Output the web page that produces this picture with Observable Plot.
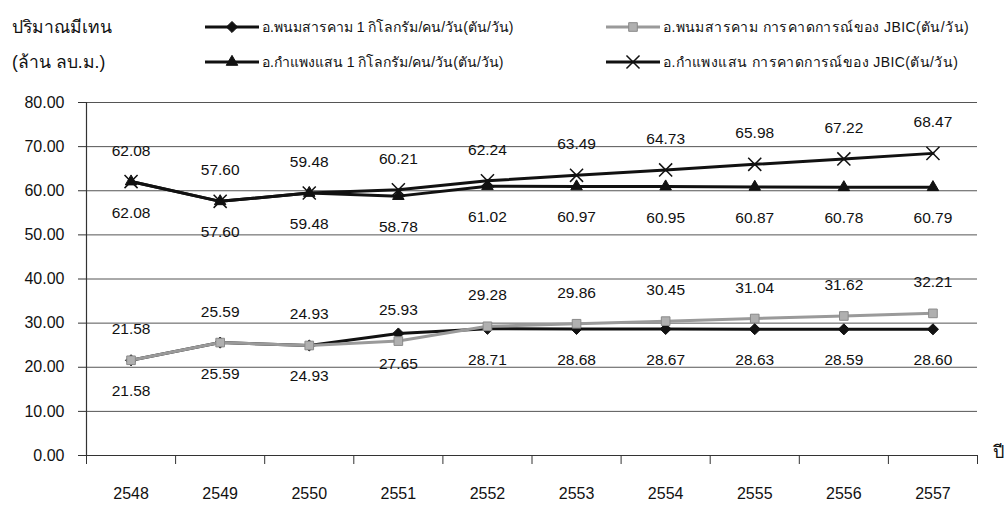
<!DOCTYPE html>
<html>
<head>
<meta charset="utf-8">
<script src="https://cdn.jsdelivr.net/npm/d3@7"></script>
<script src="https://cdn.jsdelivr.net/npm/@observablehq/plot@0.6"></script>
<style>
  html, body { margin: 0; padding: 0; background: #fff; }
  body { width: 1006px; height: 514px; overflow: hidden; font-family: "Liberation Sans", Arial, sans-serif; color: #111; }
  #legend { position: relative; height: 85px; }
  #legend .t { position: absolute; font-size: 17.5px; white-space: nowrap; transform: translateY(-50%); }
  #legend .item { position: absolute; display: flex; align-items: center; font-size: 14px; white-space: nowrap; transform: translateY(-50%); }
  #legend .item svg { margin-right: 3px; }
  #legend .item.wide span { letter-spacing: 0.4px; }
  #chart svg { overflow: visible; }
</style>
</head>
<body>
<div id="legend"></div>
<div id="chart"></div>
<script>
// ---- data ----
const years = [2548, 2549, 2550, 2551, 2552, 2553, 2554, 2555, 2556, 2557];
const phanomPerCapita = [21.58, 25.59, 24.93, 27.65, 28.71, 28.68, 28.67, 28.63, 28.59, 28.60];
const phanomJBIC      = [21.58, 25.59, 24.93, 25.93, 29.28, 29.86, 30.45, 31.04, 31.62, 32.21];
const kamphaengPerCapita = [62.08, 57.60, 59.48, 58.78, 61.02, 60.97, 60.95, 60.87, 60.78, 60.79];
const kamphaengJBIC      = [62.08, 57.60, 59.48, 60.21, 62.24, 63.49, 64.73, 65.98, 67.22, 68.47];
const seriesNames = [
  "อ.พนมสารคาม  1 กิโลกรัม/คน/วัน(ตัน/วัน)",
  "อ.กำแพงแสน  1 กิโลกรัม/คน/วัน(ตัน/วัน)",
  "อ.พนมสารคาม  การคาดการณ์ของ JBIC(ตัน/วัน)",
  "อ.กำแพงแสน  การคาดการณ์ของ JBIC(ตัน/วัน)"
];
const yTicks = [0, 10, 20, 30, 40, 50, 60, 70, 80];
const yTitle = ["ปริมาณมีเทน", "(ล้าน ลบ.ม.)"];
const xTitle = "ปี";

// ---- styles ----
const styles = [
  {values: phanomPerCapita,    stroke: "#111", symbol: "diamond2",  fill: "#111", mstroke: "#111", r: 5,   labelDy: 31},
  {values: kamphaengPerCapita, stroke: "#111", symbol: "triangle2", fill: "#111", mstroke: "#111", r: 5.5, labelDy: 31},
  {values: phanomJBIC,         stroke: "#9a9a9a", symbol: "square2", fill: "#b0b0b0", mstroke: "#8a8a8a", r: 5.5, labelDy: -31},
  {values: kamphaengJBIC,      stroke: "#111", symbol: "times",     fill: "none", mstroke: "#111", r: 6,   labelDy: -31}
];
const tables = styles.map((s, i) => years.map((y, j) => ({year: y, value: s.values[j], series: seriesNames[i]})));

// ---- legend ----
const legend = document.getElementById("legend");
function addText(txt, left, top) {
  const d = document.createElement("div");
  d.className = "t"; d.textContent = txt;
  d.style.left = left + "px"; d.style.top = top + "px";
  legend.appendChild(d);
}
addText(yTitle[0], 12, 27);
addText(yTitle[1], 12, 62);
function swatch(s) {
  const ns = "http://www.w3.org/2000/svg";
  const svg = document.createElementNS(ns, "svg");
  svg.setAttribute("width", 54); svg.setAttribute("height", 16);
  const line = document.createElementNS(ns, "line");
  line.setAttribute("x1", 0); line.setAttribute("x2", 54); line.setAttribute("y1", 8); line.setAttribute("y2", 8);
  line.setAttribute("stroke", s.stroke); line.setAttribute("stroke-width", 3);
  svg.appendChild(line);
  const sym = d3.symbol().type({
    diamond2: d3.symbolDiamond2, triangle2: d3.symbolTriangle2, square2: d3.symbolSquare2, times: d3.symbolTimes
  }[s.symbol]).size(s.r * s.r * Math.PI)();
  const p = document.createElementNS(ns, "path");
  p.setAttribute("d", sym); p.setAttribute("transform", "translate(27,8)");
  p.setAttribute("fill", s.fill); p.setAttribute("stroke", s.mstroke);
  p.setAttribute("stroke-width", s.symbol === "times" ? 1.5 : 1);
  svg.appendChild(p);
  return svg;
}
const legendPos = [[205, 27], [205, 62], [606, 27], [606, 62]];
styles.forEach((s, i) => {
  const d = document.createElement("div");
  d.className = "item" + (i >= 2 ? " wide" : "");
  d.style.left = legendPos[i][0] + "px"; d.style.top = legendPos[i][1] + "px";
  d.appendChild(swatch(s));
  const span = document.createElement("span");
  span.textContent = seriesNames[i];
  d.appendChild(span);
  legend.appendChild(d);
});

// ---- chart ----
const bounds = [years[0] - 0.5, ...years.map(y => y + 0.5)];
const marks = [
  Plot.ruleY(yTicks.filter(t => t > 0), {y: d => d, stroke: "#555", strokeWidth: 1}),
  Plot.ruleY([0], {stroke: "#333", strokeWidth: 1.2}),
  Plot.ruleX([bounds[0]], {y1: 0, y2: 80, stroke: "#333", strokeWidth: 1.2}),
  Plot.axisY({ticks: yTicks, tickSize: 8, tickPadding: 14, tickFormat: d3.format(".2f"), fontSize: 16, stroke: "#333", label: null}),
  Plot.axisX({ticks: bounds, tickSize: 9, tickFormat: () => "", stroke: "#333", label: null}),
  Plot.axisX({ticks: years, tickSize: 0, tickPadding: 32, tickFormat: d => String(d), fontSize: 16, label: null}),
  Plot.text([xTitle], {frameAnchor: "bottom-right", dx: 15, dy: 2, fontSize: 18, textAnchor: "start"})
];
[0, 2, 1, 3].forEach(i => {
  const s = styles[i];
  marks.push(Plot.line(tables[i], {x: "year", y: "value", stroke: s.stroke, strokeWidth: 3}));
  marks.push(Plot.dot(tables[i], {x: "year", y: "value", symbol: s.symbol, r: s.r, fill: s.fill, stroke: s.mstroke, strokeWidth: s.symbol === "times" ? 1.5 : 1}));
});
styles.forEach((s, i) => {
  marks.push(Plot.text(tables[i], {x: "year", y: "value", text: d => d3.format(".2f")(d.value), dy: s.labelDy, fontSize: 15.5, fill: "#111"}));
});

const chart = Plot.plot({
  width: 1006,
  height: 429,
  marginLeft: 86,
  marginRight: 29,
  marginTop: 17,
  marginBottom: 59,
  style: {fontFamily: "'Liberation Sans', Arial, sans-serif", color: "#111", background: "#fff"},
  x: {domain: [bounds[0], bounds[bounds.length - 1]], axis: null},
  y: {domain: [0, 80], axis: null},
  marks
});
document.getElementById("chart").appendChild(chart);
</script>
</body>
</html>
